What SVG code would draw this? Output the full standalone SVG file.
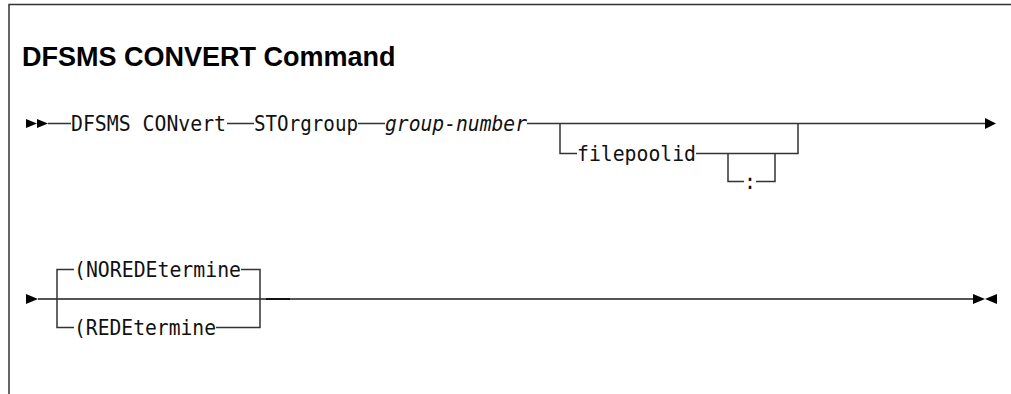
<svg xmlns="http://www.w3.org/2000/svg" width="1011" height="394" viewBox="0 0 1011 394">
<style>
.frame{fill:none;stroke:#333;stroke-width:1.5}
.ln{fill:none;stroke:#333;stroke-width:1.5}
.ln2{fill:none;stroke:#555;stroke-width:2}
.ah{fill:#000;stroke:none}
.t{font-family:"DejaVu Sans Mono",monospace;font-size:22px;fill:#111}
.ti{font-style:italic}
.title{font-family:"Liberation Sans",Arial,sans-serif;font-weight:bold;font-size:27px;fill:#000}
</style>
<rect width="1011" height="394" fill="#fff"/>
<g id="frame">
<path class="frame" d="M9 394 V4.5 H1011"/>
</g>
<g id="title"><text class="title" x="22" y="66">DFSMS CONVERT Command</text></g>
<g id="connectors">
<path class="ln" d="M48 123.5 H71 M227 123.5 H254 M358 123.5 H385 M527 123.5 H986"/>
<path class="ln" d="M560 123.5 V153.5 H577 M696 153.5 H798 V123.5"/>
<path class="ln" d="M728 153.5 V181.5 H744 M756 181.5 H775 V153.5"/>
<path class="ln2" d="M38 299 H973"/>
<path d="M266 299 H290" stroke="#111" stroke-width="2"/>
<path class="ln" d="M57 299 V269.5 H74 M241 269.5 H260 V299"/>
<path class="ln" d="M57 299 V327.5 H74 M216 327.5 H260 V299"/>
<polygon class="ah" points="26,119 37,123.5 26,128"/>
<polygon class="ah" points="37,119 48,123.5 37,128"/>
<polygon class="ah" points="985,118 996,123.5 985,129"/>
<polygon class="ah" points="26,294 38,299 26,304"/>
<polygon class="ah" points="973,294 985,299 973,304"/>
<polygon class="ah" points="997,294 985,299 997,304"/>
</g>
<g id="n-dfsms"><text class="t" x="71" y="130.5" textLength="155" lengthAdjust="spacingAndGlyphs">DFSMS CONvert</text></g>
<g id="n-storgroup"><text class="t" x="254" y="130.5" textLength="104" lengthAdjust="spacingAndGlyphs">STOrgroup</text></g>
<g id="n-groupnumber"><text class="t ti" x="385" y="130.5" textLength="142" lengthAdjust="spacingAndGlyphs">group-number</text></g>
<g id="n-filepoolid"><text class="t" x="577" y="160.5" textLength="119" lengthAdjust="spacingAndGlyphs">filepoolid</text></g>
<g id="n-colon"><text class="t" x="744" y="188.5" textLength="12" lengthAdjust="spacingAndGlyphs">:</text></g>
<g id="n-noredetermine"><text class="t" x="74" y="276.5" textLength="167" lengthAdjust="spacingAndGlyphs">(NOREDEtermine</text></g>
<g id="n-redetermine"><text class="t" x="74" y="334.5" textLength="142" lengthAdjust="spacingAndGlyphs">(REDEtermine</text></g>
</svg>
